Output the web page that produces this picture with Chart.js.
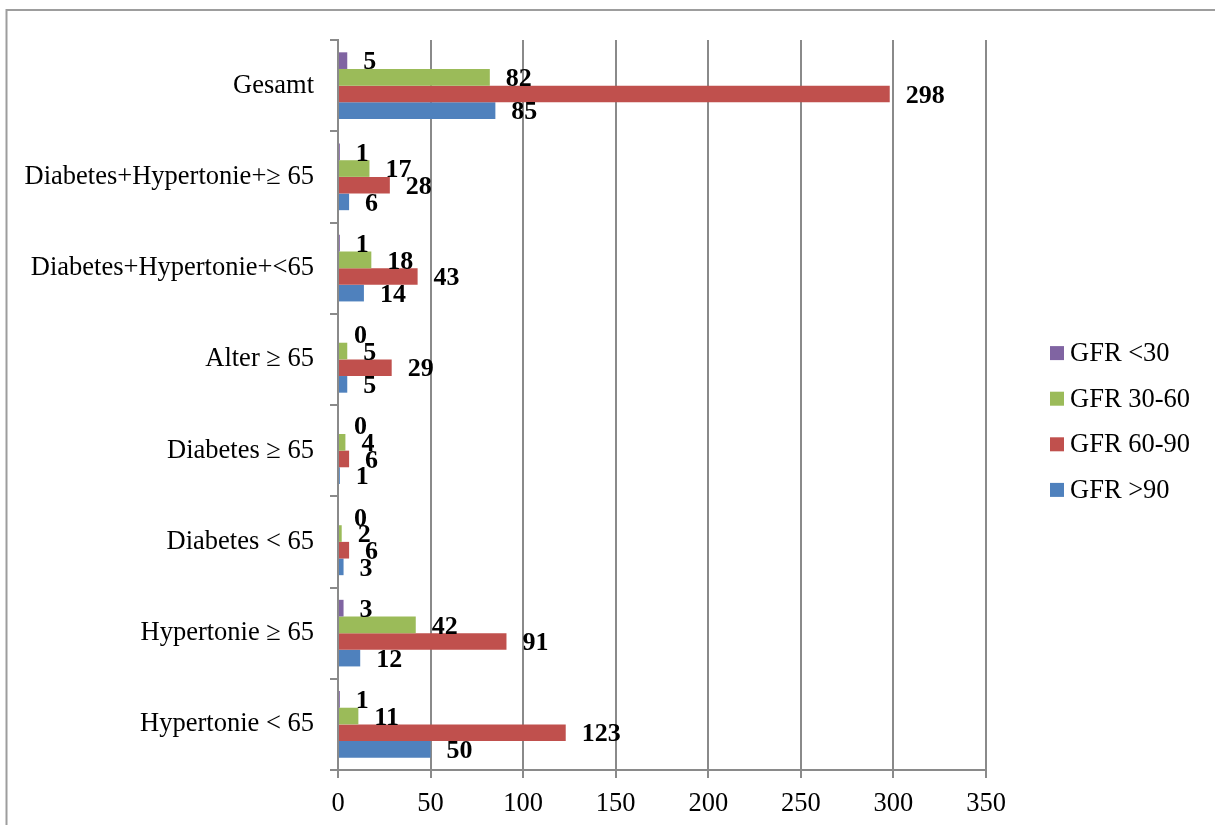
<!DOCTYPE html>
<html>
<head>
<meta charset="utf-8">
<script src="https://cdn.jsdelivr.net/npm/chart.js@4/dist/chart.umd.min.js"></script>
<style>
  html, body { margin: 0; padding: 0; background: #ffffff; }
  #wrap { width: 1215px; height: 825px; }
</style>
</head>
<body>
<div id="wrap"><canvas id="c" width="1215" height="825"></canvas></div>
<script>
// Patient groups (top to bottom)
const categories = [
  'Gesamt',
  'Diabetes+Hypertonie+\u2265 65',
  'Diabetes+Hypertonie+<65',
  'Alter \u2265 65',
  'Diabetes \u2265 65',
  'Diabetes < 65',
  'Hypertonie \u2265 65',
  'Hypertonie < 65'
];

// Counts per GFR class
const seriesNames = ['GFR <30', 'GFR 30-60', 'GFR 60-90', 'GFR >90'];
const gfrUnder30 = [5, 1, 1, 0, 0, 0, 3, 1];
const gfr30to60  = [82, 17, 18, 5, 4, 2, 42, 11];
const gfr60to90  = [298, 28, 43, 29, 6, 6, 91, 123];
const gfrOver90  = [85, 6, 14, 5, 1, 3, 12, 50];

// Value axis
const xMin = 0;
const xMax = 350;
const xStep = 50;

const seriesColors = ['#8064A2', '#9BBB59', '#C0504D', '#4F81BD'];
const seriesData = [gfrUnder30, gfr30to60, gfr60to90, gfrOver90];

const SERIF = '"Liberation Serif", "Times New Roman", serif';
const GRID = '#8a8a8a';

// White page with the thin grey frame
const framePlugin = {
  id: 'frame',
  beforeDraw(chart) {
    const ctx = chart.ctx;
    ctx.save();
    ctx.fillStyle = '#ffffff';
    ctx.fillRect(0, 0, chart.width, chart.height);
    ctx.strokeStyle = '#9d9d9d';
    ctx.lineWidth = 2;
    ctx.strokeRect(6.5, 10, chart.width + 20, chart.height + 20);
    ctx.restore();
  }
};

// Bold value labels just past the end of each bar
const valueLabels = {
  id: 'valueLabels',
  afterDatasetsDraw(chart) {
    const ctx = chart.ctx;
    ctx.save();
    ctx.font = 'bold 26px ' + SERIF;
    ctx.fillStyle = '#000000';
    ctx.textAlign = 'left';
    ctx.textBaseline = 'middle';
    chart.data.datasets.forEach((ds, di) => {
      const meta = chart.getDatasetMeta(di);
      meta.data.forEach((bar, i) => {
        ctx.fillText(String(ds.data[i]), bar.x + 16, bar.y + 2);
      });
    });
    ctx.restore();
  }
};

// Legend stacked to the right of the plot
const sideLegend = {
  id: 'sideLegend',
  afterDraw(chart) {
    const ctx = chart.ctx;
    const area = chart.chartArea;
    const x0 = area.right + 64;
    const yMid = (area.top + area.bottom) / 2 + 16.5;
    const gap = 45.6;
    const n = chart.data.datasets.length;
    ctx.save();
    ctx.font = '26.5px ' + SERIF;
    ctx.textAlign = 'left';
    ctx.textBaseline = 'middle';
    chart.data.datasets.forEach((ds, i) => {
      const y = yMid + (i - (n - 1) / 2) * gap;
      ctx.fillStyle = ds.backgroundColor;
      ctx.fillRect(x0, y - 7, 14, 14);
      ctx.fillStyle = '#000000';
      ctx.fillText(ds.label, x0 + 20, y + 1);
    });
    ctx.restore();
  }
};

new Chart(document.getElementById('c'), {
  type: 'bar',
  data: {
    labels: categories,
    datasets: seriesNames.map((name, i) => ({
      label: name,
      data: seriesData[i],
      backgroundColor: seriesColors[i],
      borderWidth: 0,
      barPercentage: 1.0,
      categoryPercentage: 0.73
    }))
  },
  options: {
    indexAxis: 'y',
    responsive: false,
    animation: false,
    devicePixelRatio: 1,
    layout: { padding: { top: 40, right: 229, bottom: 0, left: 0 } },
    plugins: {
      legend: { display: false },
      tooltip: { enabled: false }
    },
    scales: {
      x: {
        min: xMin,
        max: xMax,
        ticks: {
          stepSize: xStep,
          color: '#000000',
          font: { family: SERIF, size: 26.5 },
          padding: 10
        },
        grid: {
          color: GRID,
          lineWidth: 2,
          tickLength: 8,
          drawOnChartArea: true
        },
        border: { display: true, color: GRID, width: 2 },
        afterFit(scale) { scale.height = 55; }
      },
      y: {
        ticks: {
          color: '#000000',
          font: { family: SERIF, size: 26.5 },
          padding: 16
        },
        grid: {
          color: GRID,
          lineWidth: 2,
          tickLength: 8,
          offset: true,
          drawOnChartArea: false
        },
        border: { display: true, color: GRID, width: 2 },
        afterFit(scale) { scale.width = 338; }
      }
    }
  },
  plugins: [framePlugin, valueLabels, sideLegend]
});
</script>
</body>
</html>
